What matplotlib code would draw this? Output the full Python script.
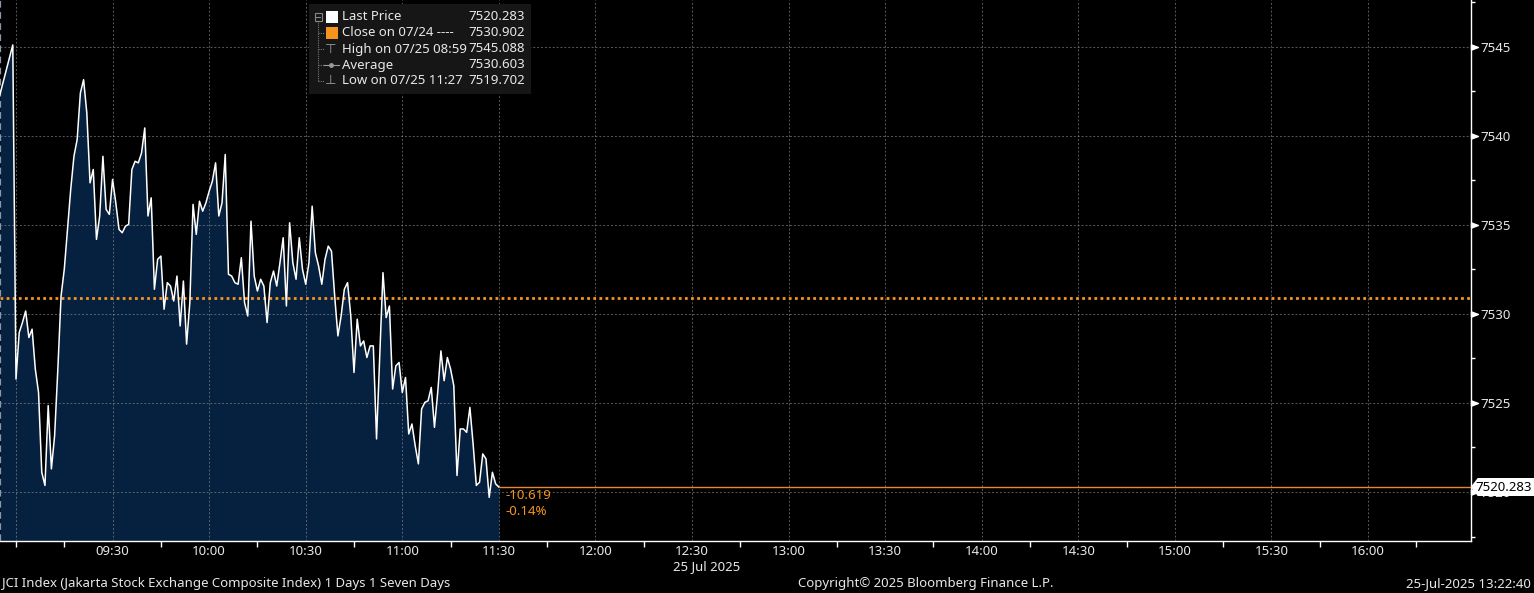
import matplotlib
matplotlib.use("Agg")
import matplotlib.pyplot as plt
from matplotlib.patches import Rectangle, Polygon
from matplotlib.transforms import blended_transform_factory, IdentityTransform
import numpy as np

plt.rcParams["font.family"] = ["Noto Sans", "DejaVu Sans"]

W, H, DPI = 1534, 593, 100

# one print per minute, minutes counted from 09:00 (first print 08:55)
t_start = -5
prices = [
    7542.3, 7543.0, 7543.7, 7544.4, 7545.088,
    # 09:00 - 09:33
    7526.34, 7528.95, 7529.51, 7530.16, 7528.67, 7529.14, 7526.90, 7525.59, 7521.11, 7520.37,
    7524.85, 7521.30, 7523.17, 7526.90, 7531.00, 7532.50, 7534.74, 7536.98, 7538.84, 7539.78,
    7542.39, 7543.14, 7541.27, 7537.35, 7538.10, 7534.18, 7535.49, 7538.84, 7535.86, 7535.58,
    7537.54, 7536.23, 7534.74, 7534.55,
    # 09:34 - 10:12
    7534.92, 7535.02, 7538.10, 7538.56, 7538.47, 7539.03, 7540.43, 7535.49, 7536.51, 7531.38,
    7533.06, 7533.24, 7530.26, 7531.75, 7531.56, 7530.72, 7532.12, 7529.32, 7531.84, 7528.30,
    7530.63, 7536.14, 7534.46, 7536.32, 7535.76, 7536.23, 7536.88, 7537.44, 7538.47, 7535.49,
    7536.23, 7538.94, 7532.22, 7532.12, 7531.75, 7531.66, 7533.15, 7530.63, 7529.88,
    # 10:13 - 10:51
    7535.20, 7532.12, 7531.28, 7531.94, 7531.56, 7529.51, 7531.75, 7532.40, 7531.56, 7532.87,
    7534.27, 7530.44, 7535.11, 7532.87, 7531.94, 7534.27, 7532.50, 7531.66, 7532.87, 7536.04,
    7533.43, 7532.68, 7531.66, 7533.06, 7533.80, 7533.52, 7531.00, 7528.76, 7529.88, 7531.38,
    7531.75, 7529.88, 7526.71, 7529.70, 7528.20, 7528.48, 7527.55, 7528.20, 7528.20,
    # 10:52 - 11:30
    7522.98, 7527.64, 7532.31, 7529.79, 7530.44, 7525.78, 7527.08, 7527.27, 7525.59, 7526.43,
    7523.26, 7523.82, 7522.61, 7521.58, 7524.66, 7525.03, 7525.12, 7525.87, 7523.63, 7525.59,
    7527.92, 7526.25, 7527.55, 7526.90, 7525.97, 7520.93, 7523.54, 7523.54, 7523.35, 7524.75,
    7522.70, 7520.37, 7520.55, 7522.14, 7521.86, 7519.702, 7521.11, 7520.46, 7520.283,
]
minutes = np.arange(t_start, t_start + len(prices))

prev_close = 7530.902
last_price = 7520.283
high_price = 7545.088
avg_price = 7530.603
low_price = 7519.702

x_ticks = list(range(0, 421, 30))
x_labels = ["", "09:30", "10:00", "10:30", "11:00", "11:30", "12:00", "12:30", "13:00",
            "13:30", "14:00", "14:30", "15:00", "15:30", "16:00"]
y_ticks = [7520, 7525, 7530, 7535, 7540, 7545]

legend_labels = ["Last Price", "Close on 07/24 ----", "High on 07/25 08:59", "Average",
                 "Low on 07/25 11:27"]
legend_values = [last_price, prev_close, high_price, avg_price, low_price]

XMIN, XMAX = -4.97, 451.9
YMIN, YMAX = 7517.27, 7547.61
ORANGE = "#f7941d"
TXT = "#e8e8e8"
FS = 9.5


def fx(x):
    return x / W


def fy(y):
    return 1 - y / H


fig = plt.figure(figsize=(W / DPI, H / DPI), dpi=DPI, facecolor="black")
ax = fig.add_axes([0, fy(540.7), fx(1470.7), 540.7 / H])
ax.set_facecolor("black")

ax.fill_between(minutes, prices, YMIN, color="#06203f", lw=0, zorder=1)
ax.plot(minutes, prices, color="white", lw=1.1, zorder=4)
ax.axhline(prev_close, color=ORANGE, lw=2, ls=(0, (1, 1.2)), zorder=3)
ax.hlines(last_price, minutes[-1], XMAX, color="#e8862e", lw=1, zorder=3)
ax.axvline(minutes[0], color="#8a9aac", lw=1.6, ls=(0, (3, 2)), zorder=3)

ax.set_xlim(XMIN, XMAX)
ax.set_ylim(YMIN, YMAX)

for s in ["left", "top"]:
    ax.spines[s].set_visible(False)
for s in ["right", "bottom"]:
    ax.spines[s].set_color("white")
    ax.spines[s].set_linewidth(1)

ax.set_axisbelow(False)
ax.grid(which="major", color="#8a8a8a", ls=(0, (2, 2)), lw=0.7, alpha=0.65)

# x axis
ax.xaxis.remove_overlapping_locs = False
ax.set_xticks(x_ticks)
ax.set_xticklabels(x_labels)
ax.set_xticks([0] + list(range(15, 436, 30)), minor=True)
ax.tick_params(axis="x", which="major", length=0, pad=3, labelsize=FS, labelcolor=TXT)
ax.tick_params(axis="x", which="minor", length=4, width=1, color="white", direction="out")

# y axis on the right
ax.yaxis.tick_right()
ax.set_yticks(y_ticks)
ax.set_yticklabels([str(v) for v in y_ticks])
ax.set_yticks(np.arange(7517.5, 7548, 5), minor=True)
ax.tick_params(axis="y", which="major", length=0, pad=7, labelsize=FS, labelcolor=TXT)
ax.tick_params(axis="y", which="minor", length=3, width=1, color="white", direction="out")
tri = [(0, -0.6), (1.6, 0), (0, 0.6), (0, -0.6)]
bt = blended_transform_factory(ax.transAxes, ax.transData)
ax.plot([1] * len(y_ticks), y_ticks, ls="none", marker=tri, ms=10, color="white",
        transform=bt, clip_on=False, zorder=6)

# change vs previous close
chg = last_price - prev_close
pct = chg / prev_close * 100
ax.annotate(f"{chg:.3f}", (minutes[-1], last_price), xytext=(7, -8),
            textcoords="offset pixels", color=ORANGE, fontsize=FS, va="center", ha="left")
ax.annotate(f"{pct:.2f}%", (minutes[-1], last_price), xytext=(7, -24),
            textcoords="offset pixels", color=ORANGE, fontsize=FS, va="center", ha="left")

# last price tag on the axis
px_x, px_y = ax.transData.transform((XMAX, last_price))
tag = Polygon([(px_x, px_y), (px_x + 7, px_y + 9), (W, px_y + 9), (W, px_y - 9),
               (px_x + 7, px_y - 9)], closed=True, facecolor="white", edgecolor="none",
              transform=IdentityTransform(), zorder=10)
fig.add_artist(tag)
fig.text(W - 2, px_y, f"{last_price:.3f}", transform=IdentityTransform(),
         color="black", fontsize=FS, va="center", ha="right", zorder=11)

# legend panel
fig.add_artist(Rectangle((fx(309), fy(94)), fx(222), 90 / H, transform=fig.transFigure,
                         facecolor="#161616", edgecolor="none", zorder=8))
rows = [17, 33, 49, 65, 81]
fig.add_artist(plt.Line2D([fx(318), fx(318)], [fy(22), fy(81)], color="#777777", lw=0.8,
                          ls=(0, (1, 1)), zorder=9))
for r in rows[1:]:
    fig.add_artist(plt.Line2D([fx(318), fx(324)], [fy(r), fy(r)], color="#777777", lw=0.8,
                              ls=(0, (1, 1)), zorder=9))
fig.add_artist(Rectangle((fx(314.5), fy(20.5)), 7 / W, 7 / H, transform=fig.transFigure,
                         facecolor="none", edgecolor="#888888", lw=0.8, zorder=9))
fig.add_artist(plt.Line2D([fx(316), fx(320)], [fy(17), fy(17)], color="#888888", lw=0.8,
                          zorder=9))
fig.add_artist(Rectangle((fx(326), fy(23)), 12 / W, 12 / H, transform=fig.transFigure,
                         facecolor="white", edgecolor="none", zorder=9))
fig.add_artist(Rectangle((fx(326), fy(39)), 12 / W, 12 / H, transform=fig.transFigure,
                         facecolor=ORANGE, edgecolor="none", zorder=9))
fig.text(fx(331), fy(49), "⊤", color="#9a9a9a", fontsize=FS, ha="center", va="center",
         zorder=9)
fig.add_artist(plt.Line2D([fx(324), fx(339)], [fy(65), fy(65)], color="#9a9a9a", lw=0.8,
                          zorder=9))
fig.add_artist(plt.Line2D([fx(331)], [fy(65)], color="#9a9a9a", marker="o", ms=2.5,
                          zorder=9))
fig.text(fx(331), fy(81), "⊥", color="#9a9a9a", fontsize=FS, ha="center", va="center",
         zorder=9)
for r, lab, val in zip(rows, legend_labels, legend_values):
    fig.text(fx(342), fy(r), lab, color=TXT, fontsize=FS, ha="left", va="center", zorder=9)
    fig.text(fx(525), fy(r), f"{val:.3f}", color=TXT, fontsize=FS, ha="right",
             va="center", zorder=9)

# footer
fig.text(fx(707), fy(567), "25 Jul 2025", color=TXT, fontsize=FS, ha="center", va="center")
fig.text(fx(2), fy(584), "JCI Index (Jakarta Stock Exchange Composite Index) 1 Days 1 Seven Days",
         color=TXT, fontsize=FS, ha="left", va="center")
fig.text(fx(926), fy(584), "Copyright\u00a9 2025 Bloomberg Finance L.P.", color=TXT,
         fontsize=FS, ha="center", va="center")
fig.text(fx(1531), fy(584), "25-Jul-2025 13:22:40", color=TXT, fontsize=FS, ha="right",
         va="center")

fig.savefig("out.png", dpi=DPI, facecolor="black")
